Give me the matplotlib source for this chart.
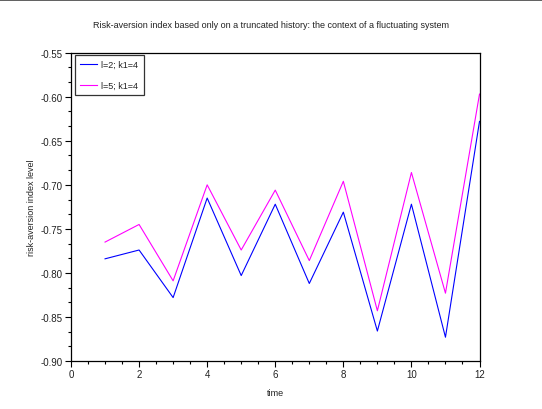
import matplotlib
matplotlib.use("Agg")
import matplotlib.pyplot as plt
from matplotlib.ticker import MultipleLocator, FormatStrFormatter
from matplotlib.lines import Line2D

# values
time = [1, 2, 3, 4, 5, 6, 7, 8, 9, 10, 11, 12]
risk_l2 = [-0.784, -0.774, -0.828, -0.715, -0.803, -0.722,
           -0.812, -0.731, -0.866, -0.722, -0.873, -0.628]
risk_l5 = [-0.765, -0.745, -0.809, -0.700, -0.774, -0.706,
           -0.786, -0.696, -0.843, -0.686, -0.823, -0.597]
labels = ["l=2; k1=4", "l=5; k1=4"]

plt.rcParams['font.family'] = ['Liberation Sans', 'DejaVu Sans']

fig = plt.figure(figsize=(5.42, 4.10), dpi=100)
ax = fig.add_axes([71 / 542, 1 - 362 / 410, 408.5 / 542, 308.3 / 410])

ax.plot(time, risk_l2, color="#0000ff", lw=0.8, label=labels[0])
ax.plot(time, risk_l5, color="#ff00ff", lw=0.8, label=labels[1])

ax.set_xlim(0, 12)
ax.set_ylim(-0.90, -0.55)
ax.xaxis.set_major_locator(MultipleLocator(2))
ax.xaxis.set_minor_locator(MultipleLocator(0.5))
ax.yaxis.set_major_locator(MultipleLocator(0.05))
ax.yaxis.set_minor_locator(MultipleLocator(0.05 / 3))
ax.yaxis.set_major_formatter(FormatStrFormatter('%.2f'))

ax.tick_params(which='both', direction='out', labelsize=7, colors='black',
               labelcolor='#222222', top=False, right=False, width=0.8)
ax.tick_params(which='major', length=4, pad=2)
ax.tick_params(which='minor', length=2.5)
for s in ax.spines.values():
    s.set_linewidth(0.9)
    s.set_color('black')

ax.set_xlabel("time", fontsize=6.5, color='#222222')
ax.set_ylabel("risk-aversion index level", fontsize=6.5, color='#222222')
ax.xaxis.set_label_coords(0.5, -27 / 308.3)
ax.yaxis.set_label_coords(-35 / 408.5, 0.5)
fig.text(0.5, 1 - 25 / 410, "Risk-aversion index based only on a truncated history: the context of a fluctuating system",
         ha='center', va='center', fontsize=6.5, color='#222222')

leg = ax.legend(loc='upper left', bbox_to_anchor=(3.5 / 408.5, 1 - 2 / 308.3),
                borderaxespad=0, fontsize=6.5, frameon=True, fancybox=False,
                edgecolor='black', handlelength=1.9, handletextpad=0.45,
                labelspacing=1.3, borderpad=0.6, labelcolor='#222222')
leg.get_frame().set_linewidth(0.9)

# thin dark rule across the top of the image
fig.add_artist(Line2D([0, 1], [0.998, 0.998], transform=fig.transFigure,
                      color='#444444', lw=1.2))

fig.savefig("out.png", dpi=100)
